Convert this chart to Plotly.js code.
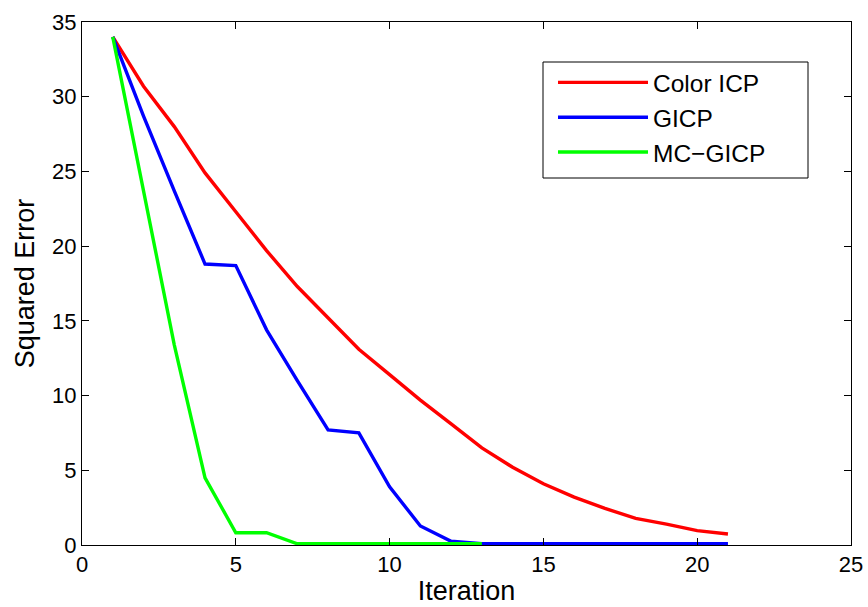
<!DOCTYPE html>
<html>
<head>
<meta charset="utf-8">
<script src="https://cdn.plot.ly/plotly-3.0.1.min.js"></script>
<style>html,body{margin:0;padding:0;background:#fff;}#chart{width:868px;height:607px;}</style>
</head>
<body>
<div id="chart"></div>
<script>
const iterations = [1,2,3,4,5,6,7,8,9,10,11,12,13,14,15,16,17,18,19,20,21];
const colorICP = [34.0,30.7,28.0,24.9,22.3,19.7,17.3,15.2,13.1,11.4,9.7,8.1,6.5,5.2,4.1,3.2,2.45,1.78,1.4,0.96,0.74];
const gicp = [34.0,28.7,23.7,18.8,18.7,14.4,11.0,7.7,7.5,3.9,1.27,0.25,0.08,0.08,0.08,0.08,0.08,0.08,0.08,0.08,0.08];
const mcIterations = [1,2,3,4,5,6,7,8,9,10,11,12,13];
const mcGicp = [34.0,23.8,13.4,4.5,0.82,0.82,0.08,0.08,0.08,0.08,0.08,0.08,0.08];
const xTicks = [0,5,10,15,20,25];
const yTicks = [0,5,10,15,20,25,30,35];

const font = 'Liberation Sans, Arial, Helvetica, sans-serif';
const traces = [
  {x: iterations, y: colorICP, name: 'Color ICP', legendgroup: 'a', mode: 'lines', line: {color: '#ff0000', width: 3.4}},
  {x: iterations, y: gicp, name: 'GICP', legendgroup: 'b', mode: 'lines', line: {color: '#0000ff', width: 3.4}},
  {x: mcIterations, y: mcGicp, name: 'MC\u2212GICP', legendgroup: 'c', mode: 'lines', line: {color: '#00ff00', width: 3.4}}
];
const axisCommon = {
  showgrid: false, zeroline: false, showline: true, linecolor: '#000', linewidth: 1,
  mirror: 'ticks', ticks: 'inside', ticklen: 7, tickcolor: '#000', tickwidth: 1,
  tickfont: {family: font, size: 22, color: '#000'}
};
const layout = {
  width: 868, height: 607,
  margin: {l: 82, r: 17, t: 22, b: 62},
  paper_bgcolor: '#fff', plot_bgcolor: '#fff',
  font: {family: font, color: '#000'},
  xaxis: Object.assign({}, axisCommon, {
    range: [0, 25], tickvals: xTicks, ticktext: xTicks.map(String),
    title: {text: 'Iteration', font: {family: font, size: 27, color: '#000'}, standoff: 4}
  }),
  yaxis: Object.assign({}, axisCommon, {
    range: [0, 35], tickvals: yTicks, ticktext: yTicks.map(String),
    title: {text: 'Squared Error', font: {family: font, size: 27, color: '#000'}, standoff: 9}
  }),
  shapes: [{
    type: 'rect', xref: 'paper', yref: 'paper', layer: 'above',
    x0: (543 - 82) / 769, x1: (808 - 82) / 769,
    y0: (545 - 178) / 523, y1: (545 - 62) / 523,
    line: {color: '#000', width: 1}, fillcolor: '#fff'
  }],
  legend: {
    x: (553 - 82) / 769, y: 0.9275, xanchor: 'left', yanchor: 'top',
    borderwidth: 0, bgcolor: 'rgba(0,0,0,0)',
    font: {family: font, size: 24.5, color: '#000'},
    tracegroupgap: 0, itemwidth: 90
  },
  showlegend: true
};
Plotly.newPlot('chart', traces, layout, {displayModeBar: false, staticPlot: true});
</script>
</body>
</html>
